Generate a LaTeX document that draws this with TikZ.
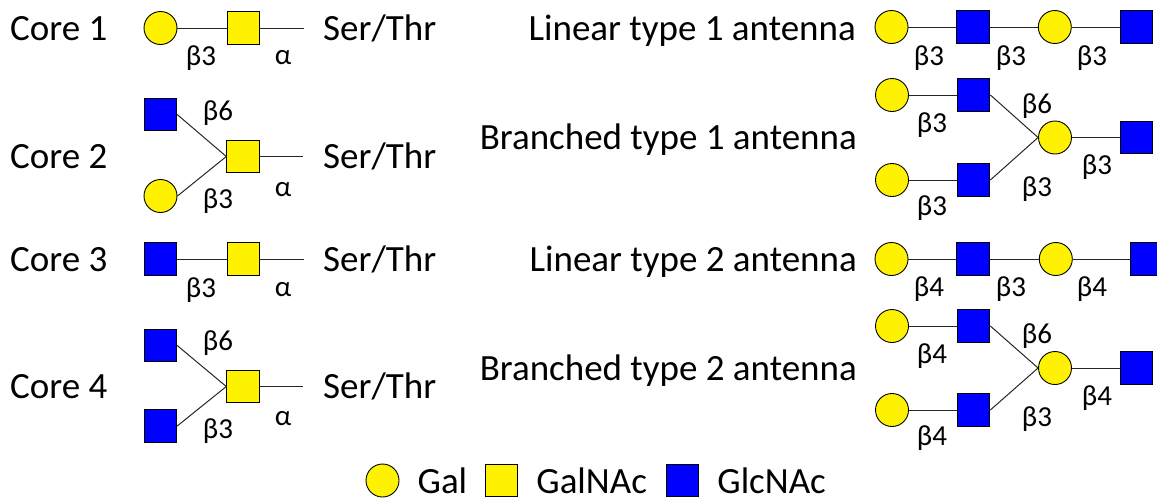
\documentclass[tikz,border=0pt]{standalone}
\usepackage{fontspec}
\setmainfont{Carlito}
\usetikzlibrary{positioning}

\begin{document}
\begin{tikzpicture}[x=1pt, y=-1pt]
% STYLES
\tikzset{
    gal/.style={circle, draw, fill=yellow, minimum size=33pt, inner sep=0pt, line width=0.9pt},
    galnac/.style={rectangle, draw, fill=yellow, minimum size=32.5pt, inner sep=0pt, line width=0.9pt},
    glcnac/.style={rectangle, draw, fill=blue, minimum size=32.5pt, inner sep=0pt, line width=0.9pt},
    rowname/.style={font=\fontsize{37}{44}\selectfont, inner sep=0pt},
    bond/.style={font=\fontsize{29}{34}\selectfont, inner sep=0pt},
    link/.style={line width=1pt, black!85}
}
\clip (0,0) rectangle (1157,499);

% Core 1
\node[rowname, anchor=base west] (Core1) at (10,40) {Core 1};
\node[gal] (C1Gal) at (160.5,28) {};
\node[galnac, right=49.5pt of C1Gal] (C1GalNAc) {};
\coordinate[right=43.5pt of C1GalNAc] (C1End);
\node[rowname, anchor=base west] (C1Ser) at (323,40) {Ser/Thr};
\node[bond] at (201,58) {β3};
\node[bond] at (283,58) {α};

% Core 2
\node[rowname, anchor=base west] (Core2) at (10,168.5) {Core 2};
\node[galnac] (C2GalNAc) at (243,156.5) {};
\node[glcnac] (C2GlcNAc) at (160.5,114.5) {};
\node[gal] (C2Gal) at (160.5,196) {};
\coordinate[right=43.5pt of C2GalNAc] (C2End);
\node[rowname, anchor=base west] (C2Ser) at (323,168.5) {Ser/Thr};
\node[bond] at (218,113) {β6};
\node[bond] at (218,201) {β3};
\node[bond] at (283,190) {α};

% Core 3
\node[rowname, anchor=base west] (Core3) at (10,271) {Core 3};
\node[glcnac] (C3GlcNAc) at (160.5,259) {};
\node[galnac, right=49.5pt of C3GlcNAc] (C3GalNAc) {};
\coordinate[right=43.5pt of C3GalNAc] (C3End);
\node[rowname, anchor=base west] (C3Ser) at (323,271) {Ser/Thr};
\node[bond] at (201,290) {β3};
\node[bond] at (283,290) {α};

% Core 4
\node[rowname, anchor=base west] (Core4) at (10,398.5) {Core 4};
\node[galnac] (C4GalNAc) at (243,386.5) {};
\node[glcnac] (C4GlcNAcA) at (160.5,345.5) {};
\node[glcnac] (C4GlcNAcB) at (160.5,426) {};
\coordinate[right=43.5pt of C4GalNAc] (C4End);
\node[rowname, anchor=base west] (C4Ser) at (323,398.5) {Ser/Thr};
\node[bond] at (218,343) {β6};
\node[bond] at (218,431) {β3};
\node[bond] at (283,419) {α};

% Linear type 1
\node[rowname, anchor=base east] (Lin1) at (856,40) {Linear type 1 antenna};
\node[gal] (L1GalA) at (891.5,27) {};
\node[glcnac, right=48pt of L1GalA] (L1GlcNAcA) {};
\node[gal, right=48pt of L1GlcNAcA] (L1GalB) {};
\node[glcnac, right=48pt of L1GalB] (L1GlcNAcB) {};
\node[bond] at (929,58) {β3};
\node[bond] at (1011,58) {β3};
\node[bond] at (1092,58) {β3};

% Branched type 1
\node[rowname, anchor=base east] (Bra1) at (857,149.5) {Branched type 1 antenna};
\node[gal] (B1GalA) at (892,95) {};
\node[glcnac, right=48pt of B1GalA] (B1GlcNAcA) {};
\node[gal] (B1GalB) at (892,180) {};
\node[glcnac, right=48pt of B1GalB] (B1GlcNAcB) {};
\node[gal] (B1GalC) at (1055,137.5) {};
\node[glcnac, right=48pt of B1GalC] (B1GlcNAcC) {};
\node[bond] at (932,125) {β3};
\node[bond] at (1037,106) {β6};
\node[bond] at (1037,189) {β3};
\node[bond] at (1097,167) {β3};
\node[bond] at (932,208) {β3};

% Linear type 2
\node[rowname, anchor=base east] (Lin2) at (857,271) {Linear type 2 antenna};
\node[gal] (L2GalA) at (891.5,259) {};
\node[glcnac, right=48pt of L2GalA] (L2GlcNAcA) {};
\node[gal, right=49pt of L2GlcNAcA] (L2GalB) {};
\node[glcnac, right=57pt of L2GalB] (L2GlcNAcB) {};
\node[bond] at (929,289) {β4};
\node[bond] at (1011,289) {β3};
\node[bond] at (1092,289) {β4};

% Branched type 2
\node[rowname, anchor=base east] (Bra2) at (857,380) {Branched type 2 antenna};
\node[gal] (B2GalA) at (892,326) {};
\node[glcnac, right=48pt of B2GalA] (B2GlcNAcA) {};
\node[gal] (B2GalB) at (892,410) {};
\node[glcnac, right=48pt of B2GalB] (B2GlcNAcB) {};
\node[gal] (B2GalC) at (1055,368) {};
\node[glcnac, right=48pt of B2GalC] (B2GlcNAcC) {};
\node[bond] at (932,356) {β4};
\node[bond] at (1037,336) {β6};
\node[bond] at (1037,419) {β3};
\node[bond] at (1097,398) {β4};
\node[bond] at (932,438) {β4};

% Legend
\node[gal] (KeyGal) at (382.5,480.5) {};
\node[rowname, right=18pt of KeyGal] (KeyGalText) {Gal};
\node[galnac] (KeyGalNAc) at (501.5,480.5) {};
\node[rowname, right=18pt of KeyGalNAc] (KeyGalNAcText) {GalNAc};
\node[glcnac] (KeyGlcNAc) at (682.5,480.5) {};
\node[rowname, right=18pt of KeyGlcNAc] (KeyGlcNAcText) {GlcNAc};

% Draw the links between residues
\path[link]
   (C1Gal) edge (C1GalNAc)
   (C1GalNAc) edge (C1End)
   (C2GlcNAc.east) edge (C2GalNAc.west)
   (C2Gal.east) edge (C2GalNAc.west)
   (C2GalNAc) edge (C2End)
   (C3GlcNAc) edge (C3GalNAc)
   (C3GalNAc) edge (C3End)
   (C4GlcNAcA.east) edge (C4GalNAc.west)
   (C4GlcNAcB.east) edge (C4GalNAc.west)
   (C4GalNAc) edge (C4End)
   (L1GalA) edge (L1GlcNAcA)
   (L1GlcNAcA) edge (L1GalB)
   (L1GalB) edge (L1GlcNAcB)
   (B1GalA) edge (B1GlcNAcA)
   (B1GalB) edge (B1GlcNAcB)
   (B1GlcNAcA.east) edge (B1GalC.west)
   (B1GlcNAcB.east) edge (B1GalC.west)
   (B1GalC) edge (B1GlcNAcC)
   (L2GalA) edge (L2GlcNAcA)
   (L2GlcNAcA) edge (L2GalB)
   (L2GalB) edge (L2GlcNAcB)
   (B2GalA) edge (B2GlcNAcA)
   (B2GalB) edge (B2GlcNAcB)
   (B2GlcNAcA.east) edge (B2GalC.west)
   (B2GlcNAcB.east) edge (B2GalC.west)
   (B2GalC) edge (B2GlcNAcC);

\end{tikzpicture}
\end{document}
